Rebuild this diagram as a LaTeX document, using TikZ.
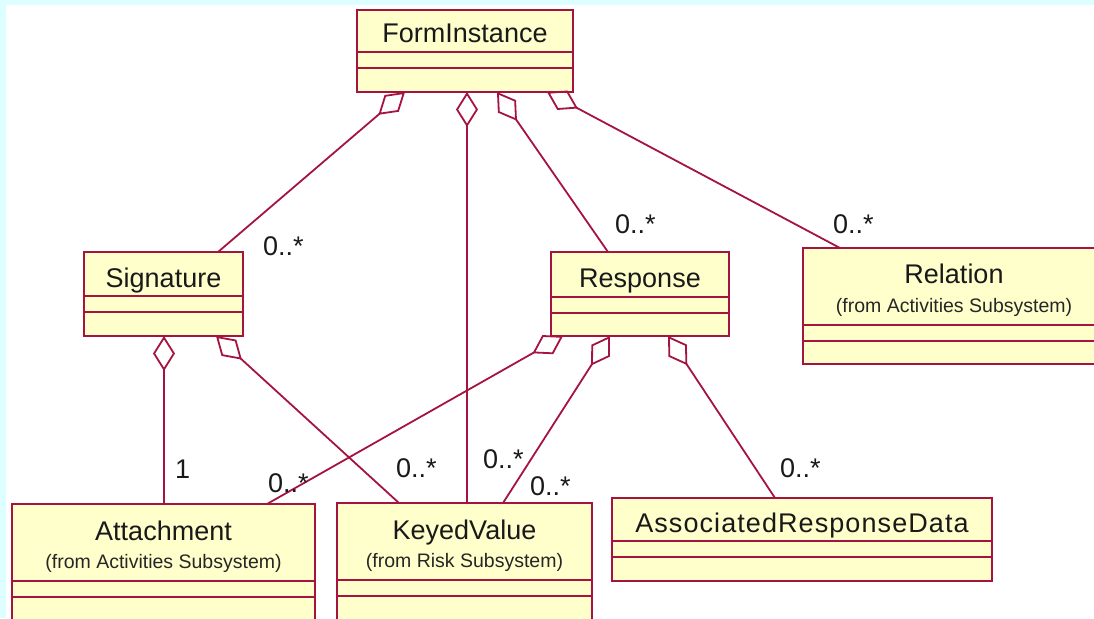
\documentclass[tikz,border=0pt]{standalone}
\usepackage{fontspec}
\setmainfont{Liberation Sans}
\usetikzlibrary{arrows.meta}
\definecolor{roseline}{RGB}{165,20,65}
\definecolor{rosefill}{RGB}{255,255,204}
\definecolor{edgecyan}{RGB}{222,255,255}

\begin{document}
\begin{tikzpicture}[
x=1pt, y=-1pt,
line width=1.8pt,
every node/.style={inner sep=0pt, outer sep=0pt},
]
% \draw [help lines] (0,0) grid (1094,618);

\tikzset{
	cls/.style={draw=roseline, fill=rosefill},
	comp/.style={draw=roseline},
	cname/.style={anchor=base, font=\fontsize{27}{30}\selectfont, text=black!90},
	csub/.style={anchor=base, font=\fontsize{19.5}{22}\selectfont, text=black!85},
	mult/.style={anchor=base west, font=\fontsize{27}{30}\selectfont, text=black!90},
	agg/.style={draw=roseline, {Diamond[open, length=35pt, width=22pt]}-},
}

\useasboundingbox (0,0) rectangle (1094,618);
\clip (0,0) rectangle (1094,618);
\fill[edgecyan] (0,0) rectangle (1094,618);
\fill[white] (6,5) rectangle (1094,618);

% classes
\node[cls, minimum width=216pt, minimum height=82pt] (form) at (465,51) {};
\node[cname] (formname) at ([yshift=-33pt]form.north) {FormInstance};
\draw[comp] ([yshift=-42pt]form.north west) -- ([yshift=-42pt]form.north east);
\draw[comp] ([yshift=-58pt]form.north west) -- ([yshift=-58pt]form.north east);

\node[cls, minimum width=159pt, minimum height=84pt] (sig) at (163.5,294) {};
\node[cname] (signame) at ([yshift=-35pt]sig.north) {Signature};
\draw[comp] ([yshift=-44pt]sig.north west) -- ([yshift=-44pt]sig.north east);
\draw[comp] ([yshift=-60pt]sig.north west) -- ([yshift=-60pt]sig.north east);

\node[cls, minimum width=178pt, minimum height=84pt] (resp) at (640,294) {};
\node[cname] (respname) at ([yshift=-35pt]resp.north) {Response};
\draw[comp] ([yshift=-45pt]resp.north west) -- ([yshift=-45pt]resp.north east);
\draw[comp] ([yshift=-61pt]resp.north west) -- ([yshift=-61pt]resp.north east);

\node[cls, minimum width=302pt, minimum height=116pt] (rel) at (954,306) {};
\node[cname] (relname) at ([yshift=-35pt]rel.north) {Relation};
\node[csub] (relsub) at ([yshift=-64pt]rel.north) {(from Activities Subsystem)};
\draw[comp] ([yshift=-77pt]rel.north west) -- ([yshift=-77pt]rel.north east);
\draw[comp] ([yshift=-93pt]rel.north west) -- ([yshift=-93pt]rel.north east);

\node[cls, minimum width=303pt, minimum height=136pt] (att) at (163.5,572) {};
\node[cname] (attname) at ([yshift=-36pt]att.north) {Attachment};
\node[csub] (attsub) at ([yshift=-64pt]att.north) {(from Activities Subsystem)};
\draw[comp] ([yshift=-77pt]att.north west) -- ([yshift=-77pt]att.north east);
\draw[comp] ([yshift=-93pt]att.north west) -- ([yshift=-93pt]att.north east);

\node[cls, minimum width=255pt, minimum height=137pt] (kv) at (464.5,571.5) {};
\node[cname] (kvname) at ([yshift=-36pt]kv.north) {KeyedValue};
\node[csub] (kvsub) at ([yshift=-64pt]kv.north) {(from Risk Subsystem)};
\draw[comp] ([yshift=-77pt]kv.north west) -- ([yshift=-77pt]kv.north east);
\draw[comp] ([yshift=-93pt]kv.north west) -- ([yshift=-93pt]kv.north east);

\node[cls, minimum width=380pt, minimum height=83pt] (ard) at (802,539.5) {};
\node[cname] (ardname) at ([yshift=-34pt]ard.north) {\addfontfeature{LetterSpace=4}AssociatedResponseData};
\draw[comp] ([yshift=-43pt]ard.north west) -- ([yshift=-43pt]ard.north east);
\draw[comp] ([yshift=-59pt]ard.north west) -- ([yshift=-59pt]ard.north east);

% aggregations
\draw[agg] ([xshift=48pt]form.south west) -- ([xshift=134pt]sig.north west);
\draw[agg] ([xshift=110pt]form.south west) -- ([xshift=130pt]kv.north west);
\draw[agg] ([xshift=140pt]form.south west) -- ([xshift=57pt]resp.north west);
\draw[agg] ([xshift=190pt]form.south west) -- ([xshift=37pt]rel.north west);

\draw[agg] ([xshift=80pt]sig.south west) -- ([xshift=152pt]att.north west);
\draw[agg] ([xshift=132pt]sig.south west) -- ([xshift=62pt]kv.north west);

\draw[agg] ([xshift=12pt]resp.south west) -- ([xshift=255pt]att.north west);
\draw[agg] ([xshift=59pt]resp.south west) -- ([xshift=166pt]kv.north west);
\draw[agg] ([xshift=117pt]resp.south west) -- ([xshift=163pt]ard.north west);

% multiplicities
\node[mult] (sigmult) at (263,255) {0..*};
\node[mult] (respmult) at (615,233) {0..*};
\node[mult] (relmult) at (833,233) {0..*};
\node[mult] (attone) at (175,478) {1};
\node[mult] (attmult) at (268,492) {0..*};
\node[mult] (kvmulta) at (396,477) {0..*};
\node[mult] (kvmultb) at (483,468) {0..*};
\node[mult] (kvmultc) at (530,495) {0..*};
\node[mult] (ardmult) at (780,477) {0..*};

\end{tikzpicture}
\end{document}
